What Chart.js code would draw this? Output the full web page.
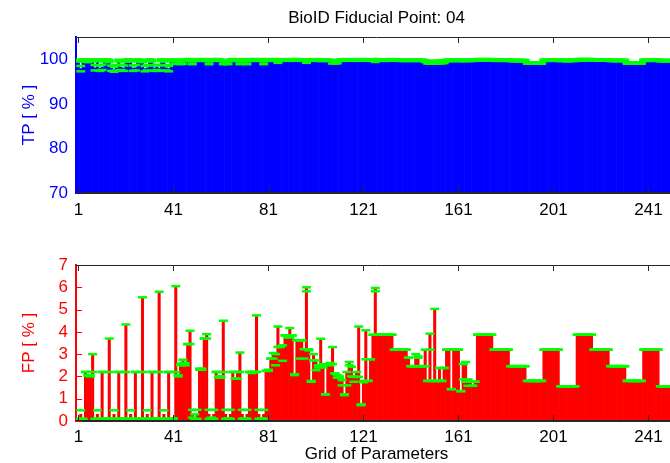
<!DOCTYPE html>
<html>
<head>
<meta charset="utf-8">
<title>BioID Fiducial Point: 04</title>
<script src="https://cdn.jsdelivr.net/npm/chart.js@4.4.1/dist/chart.umd.min.js"></script>
<style>
  html, body { margin: 0; padding: 0; background: #fff; overflow: hidden; }
  body { width: 670px; height: 463px; position: relative; }
  .panel { position: absolute; left: 0; width: 700px; }
  #tpPanel { top: 0; height: 232px; }
  #fpPanel { top: 240px; height: 240px; }
</style>
</head>
<body>
<div class="panel" id="tpPanel"><canvas id="tpChart"></canvas></div>
<div class="panel" id="fpPanel"><canvas id="fpChart"></canvas></div>
<script>
// tick labels
const xTickLabels = [1, 41, 81, 121, 161, 201, 241];
const tpTicks = [70, 80, 90, 100];
const fpTicks = [0, 1, 2, 3, 4, 5, 6, 7];

// TP [%] per grid point (one row = 7 grid points)
const tpValues = [
  99.7, 97.9, 99.8, 99.7, 99.6, 99.8, 99.7,
  98.1, 99.8, 98.0, 98.2, 99.7, 99.8, 99.6,
  98.0, 97.8, 98.1, 99.7, 98.2, 98.0, 99.7,
  99.8, 99.7, 98.0, 98.1, 99.8, 99.7, 99.6,
  97.9, 98.1, 99.8, 99.7, 98.0, 98.2, 98.0,
  99.8, 99.7, 98.1, 97.9, 99.8, 99.3, 99.7,
  99.8, 99.2, 99.3, 99.8, 99.9, 99.8, 99.2,
  99.8, 99.9, 99.8, 99.8, 99.9, 99.8, 99.2,
  99.8, 99.9, 99.8, 99.9, 99.8, 99.2, 99.3,
  99.2, 99.8, 99.9, 99.8, 99.8, 99.2, 99.9,
  99.8, 99.2, 99.9, 99.8, 99.9, 99.8, 99.8,
  99.9, 99.2, 99.8, 99.9, 99.85, 99.8, 99.9,
  99.5, 99.8, 99.85, 99.9, 99.85, 99.8, 99.9,
  99.85, 99.9, 99.85, 99.8, 99.85, 99.5, 99.8,
  99.85, 99.9, 99.85, 99.8, 99.75, 99.8, 99.85,
  99.8, 99.75, 99.4, 99.4, 99.45, 99.8, 99.85,
  99.9, 99.85, 99.8, 99.85, 99.9, 99.85, 99.8,
  99.85, 99.9, 99.85, 99.8, 99.85, 99.9, 99.6,
  99.9, 99.85, 99.85, 99.8, 99.8, 99.85, 99.9,
  99.85, 99.85, 99.8, 99.8, 99.75, 99.8, 99.85,
  99.8, 99.75, 99.8, 99.85, 99.8, 99.75, 99.6,
  99.35, 99.3, 99.35, 99.3, 99.35, 99.4, 99.4,
  99.45, 99.75, 99.8, 99.7, 99.8, 99.85, 99.8,
  99.7, 99.8, 99.75, 99.8, 99.75, 99.8, 99.8,
  99.9, 99.9, 99.85, 99.9, 99.9, 99.85, 99.9,
  99.8, 99.8, 99.85, 99.8, 99.8, 99.85, 99.8,
  99.75, 99.7, 99.75, 99.7, 99.7, 99.75, 99.7,
  99.15, 99.15, 99.15, 99.15, 99.15, 99.15, 99.15,
  99.8, 99.85, 99.8, 99.8, 99.85, 99.8, 99.8,
  99.75, 99.8, 99.75, 99.7, 99.75, 99.8, 99.75,
  99.9, 99.9, 99.9, 99.9, 99.9, 99.9, 99.9,
  99.85, 99.85, 99.85, 99.85, 99.85, 99.85, 99.85,
  99.75, 99.75, 99.75, 99.75, 99.75, 99.75, 99.75,
  99.15, 99.15, 99.15, 99.15, 99.15, 99.15, 99.15,
  99.8, 99.8, 99.8, 99.8, 99.8, 99.8, 99.8,
  99.7, 99.7, 99.7, 99.7, 99.7, 99.7, 99.7
];
const tpErr = [
  0.2, 0.6, 0.2, 0.2, 0.25, 0.2, 0.2,
  0.6, 0.2, 0.6, 0.6, 0.2, 0.2, 0.25,
  0.6, 0.6, 0.6, 0.2, 0.6, 0.6, 0.2,
  0.2, 0.2, 0.6, 0.6, 0.2, 0.2, 0.25,
  0.6, 0.6, 0.2, 0.2, 0.6, 0.6, 0.6,
  0.2, 0.2, 0.6, 0.6, 0.2, 0.35, 0.2,
  0.15, 0.3, 0.3, 0.15, 0.15, 0.15, 0.3,
  0.15, 0.15, 0.15, 0.15, 0.15, 0.15, 0.3,
  0.15, 0.15, 0.15, 0.15, 0.15, 0.3, 0.3,
  0.3, 0.15, 0.15, 0.15, 0.15, 0.3, 0.15,
  0.15, 0.3, 0.15, 0.15, 0.15, 0.15, 0.15,
  0.15, 0.3, 0.15, 0.15, 0.15, 0.15, 0.15,
  0.3, 0.15, 0.15, 0.15, 0.15, 0.15, 0.15,
  0.15, 0.15, 0.15, 0.15, 0.15, 0.3, 0.15,
  0.15, 0.15, 0.15, 0.15, 0.15, 0.15, 0.15,
  0.15, 0.15, 0.35, 0.35, 0.35, 0.15, 0.15,
  0.15, 0.15, 0.15, 0.15, 0.15, 0.15, 0.15,
  0.15, 0.15, 0.15, 0.15, 0.15, 0.15, 0.2,
  0.15, 0.15, 0.15, 0.15, 0.15, 0.15, 0.15,
  0.15, 0.15, 0.15, 0.15, 0.15, 0.15, 0.15,
  0.15, 0.15, 0.15, 0.15, 0.15, 0.15, 0.2,
  0.3, 0.3, 0.3, 0.3, 0.3, 0.3, 0.3,
  0.3, 0.15, 0.15, 0.15, 0.15, 0.15, 0.15,
  0.15, 0.15, 0.15, 0.15, 0.15, 0.15, 0.15,
  0.15, 0.15, 0.15, 0.15, 0.15, 0.15, 0.15,
  0.15, 0.15, 0.15, 0.15, 0.15, 0.15, 0.15,
  0.15, 0.15, 0.15, 0.15, 0.15, 0.15, 0.15,
  0.15, 0.15, 0.15, 0.15, 0.15, 0.15, 0.15,
  0.15, 0.15, 0.15, 0.15, 0.15, 0.15, 0.15,
  0.15, 0.15, 0.15, 0.15, 0.15, 0.15, 0.15,
  0.15, 0.15, 0.15, 0.15, 0.15, 0.15, 0.15,
  0.15, 0.15, 0.15, 0.15, 0.15, 0.15, 0.15,
  0.15, 0.15, 0.15, 0.15, 0.15, 0.15, 0.15,
  0.15, 0.15, 0.15, 0.15, 0.15, 0.15, 0.15,
  0.15, 0.15, 0.15, 0.15, 0.15, 0.15, 0.15,
  0.15, 0.15, 0.15, 0.15, 0.15, 0.15, 0.15
];

// FP [%] per grid point, with lower / upper error caps
const fpValues = [
  0.08, 0.3, 0.08, 2.2, 2.05, 2.05, 3.0,
  0.08, 0.3, 0.08, 2.2, 0.08, 0.1, 3.7,
  0.08, 0.3, 0.08, 2.2, 0.08, 0.1, 4.33,
  0.08, 0.3, 0.08, 2.2, 0.08, 0.1, 5.55,
  0.08, 0.3, 0.08, 2.2, 0.08, 0.1, 5.8,
  0.08, 0.3, 0.08, 2.2, 0.08, 0.12, 6.05,
  2.05, 2.5, 2.7, 2.6, 3.45, 4.05, 0.3,
  0.1, 0.3, 2.3, 2.35, 3.7, 3.9, 0.3,
  0.1, 0.3, 2.2, 1.95, 2.0, 4.5, 0.3,
  0.1, 0.3, 2.2, 1.9, 2.2, 3.07, 0.3,
  0.1, 0.3, 2.2, 2.15, 2.2, 4.74, 0.3,
  0.1, 0.3, 2.25, 2.3, 2.8, 3.05, 3.0,
  4.24, 3.32, 3.32, 3.84, 3.84, 4.17, 3.84,
  2.06, 3.62, 3.62, 3.62, 3.22, 6.0, 3.17,
  1.76, 3.0, 2.72, 2.5, 3.69, 2.55, 1.19,
  2.55, 2.6, 3.32, 2.13, 2.06, 1.94, 1.83,
  1.16, 2.2, 2.65, 2.43, 1.98, 2.2, 4.24,
  0.71, 1.8, 4.07, 1.8, 2.77, 3.87, 5.97,
  3.87, 3.87, 3.87, 3.87, 3.87, 3.87, 3.87,
  3.2, 3.2, 3.2, 3.2, 3.2, 3.2, 2.84,
  2.46, 2.46, 3.0, 2.9, 2.46, 2.46, 3.2,
  1.8, 3.92, 1.8, 5.03, 1.8, 2.38, 1.8,
  2.38, 3.2, 3.2, 1.43, 3.2, 3.2, 3.2,
  1.34, 2.55, 2.65, 1.87, 1.76, 1.58, 1.76,
  3.87, 3.87, 3.87, 3.87, 3.87, 3.87, 3.87,
  3.2, 3.2, 3.2, 3.2, 3.2, 3.2, 3.2,
  2.46, 2.46, 2.46, 2.46, 2.46, 2.46, 2.46,
  1.8, 1.8, 1.8, 1.8, 1.8, 1.8, 1.8,
  3.2, 3.2, 3.2, 3.2, 3.2, 3.2, 3.2,
  1.56, 1.56, 1.56, 1.56, 1.56, 1.56, 1.56,
  3.87, 3.87, 3.87, 3.87, 3.87, 3.87, 3.87,
  3.2, 3.2, 3.2, 3.2, 3.2, 3.2, 3.2,
  2.46, 2.46, 2.46, 2.46, 2.46, 2.46, 2.46,
  1.8, 1.8, 1.8, 1.8, 1.8, 1.8, 1.8,
  3.2, 3.2, 3.2, 3.2, 3.2, 3.2, 3.2,
  1.56, 1.56, 1.56, 1.56, 1.56, 1.56, 1.56
];
const fpLow = [
  0.08, 0.1, 0.08, 2.2, 2.05, 2.0, 2.2,
  0.08, 0.1, 0.08, 2.2, 0.08, 0.1, 2.2,
  0.08, 0.1, 0.08, 2.2, 0.08, 0.1, 2.2,
  0.08, 0.1, 0.08, 2.2, 0.08, 0.1, 2.2,
  0.08, 0.1, 0.08, 2.2, 0.08, 0.1, 2.2,
  0.08, 0.1, 0.08, 2.2, 0.08, 0.1, 2.2,
  2.0, 2.5, 2.6, 2.5, 3.45, 3.45, 0.15,
  0.1, 0.1, 2.3, 2.3, 3.7, 3.7, 0.1,
  0.05, 0.1, 2.2, 1.95, 1.95, 2.2, 0.1,
  0.08, 0.1, 2.2, 1.9, 1.9, 2.2, 0.1,
  0.08, 0.1, 2.2, 2.15, 2.2, 2.2, 0.1,
  0.08, 0.1, 2.25, 2.25, 2.8, 2.8, 2.5,
  3.32, 3.32, 2.7, 3.84, 3.75, 3.75, 3.84,
  2.06, 3.62, 2.8, 3.62, 2.8, 5.82, 3.17,
  1.76, 2.72, 2.28, 2.4, 2.5, 2.4, 1.19,
  2.55, 2.5, 2.55, 2.13, 1.94, 1.94, 1.6,
  1.16, 1.6, 2.5, 2.0, 1.76, 1.98, 1.98,
  0.71, 1.74, 2.77, 1.8, 2.77, 3.87, 5.82,
  3.87, 3.87, 3.87, 3.87, 3.87, 3.87, 3.87,
  3.2, 3.2, 3.2, 3.2, 3.2, 3.2, 2.84,
  2.46, 2.46, 2.46, 2.84, 2.46, 2.46, 2.46,
  1.8, 3.2, 1.8, 1.8, 1.8, 1.8, 1.8,
  2.38, 3.2, 3.2, 1.43, 3.2, 3.2, 3.2,
  1.34, 1.87, 1.76, 1.58, 1.76, 1.58, 1.76,
  3.87, 3.87, 3.87, 3.87, 3.87, 3.87, 3.87,
  3.2, 3.2, 3.2, 3.2, 3.2, 3.2, 3.2,
  2.46, 2.46, 2.46, 2.46, 2.46, 2.46, 2.46,
  1.8, 1.8, 1.8, 1.8, 1.8, 1.8, 1.8,
  3.2, 3.2, 3.2, 3.2, 3.2, 3.2, 3.2,
  1.56, 1.56, 1.56, 1.56, 1.56, 1.56, 1.56,
  3.87, 3.87, 3.87, 3.87, 3.87, 3.87, 3.87,
  3.2, 3.2, 3.2, 3.2, 3.2, 3.2, 3.2,
  2.46, 2.46, 2.46, 2.46, 2.46, 2.46, 2.46,
  1.8, 1.8, 1.8, 1.8, 1.8, 1.8, 1.8,
  3.2, 3.2, 3.2, 3.2, 3.2, 3.2, 3.2,
  1.56, 1.56, 1.56, 1.56, 1.56, 1.56, 1.56
];
const fpHigh = [
  0.1, 0.48, 0.1, 2.2, 2.05, 2.05, 3.0,
  0.1, 0.48, 0.1, 2.2, 0.1, 0.12, 3.7,
  0.1, 0.48, 0.1, 2.2, 0.1, 0.12, 4.33,
  0.1, 0.48, 0.1, 2.2, 0.1, 0.12, 5.55,
  0.1, 0.48, 0.1, 2.2, 0.1, 0.12, 5.8,
  0.1, 0.48, 0.1, 2.2, 0.1, 0.12, 6.05,
  2.05, 2.55, 2.75, 2.6, 3.45, 4.05, 0.5,
  0.3, 0.5, 2.35, 2.35, 3.7, 3.9, 0.5,
  0.15, 0.5, 2.2, 2.0, 2.0, 4.5, 0.5,
  0.12, 0.5, 2.2, 1.9, 2.2, 3.07, 0.5,
  0.12, 0.5, 2.2, 2.2, 2.2, 4.74, 0.5,
  0.12, 0.5, 2.25, 2.3, 2.8, 3.05, 3.0,
  4.24, 3.35, 3.4, 3.84, 3.84, 4.17, 3.84,
  2.1, 3.62, 3.62, 3.62, 3.22, 6.0, 3.22,
  1.8, 3.0, 2.72, 2.5, 3.69, 2.55, 1.2,
  2.55, 2.6, 3.32, 2.13, 2.06, 2.0, 1.83,
  1.2, 2.2, 2.65, 2.43, 1.98, 2.2, 4.24,
  0.75, 1.8, 4.07, 1.8, 2.77, 3.87, 5.97,
  3.87, 3.87, 3.87, 3.87, 3.87, 3.87, 3.87,
  3.2, 3.2, 3.2, 3.2, 3.2, 3.2, 2.84,
  2.46, 2.46, 3.0, 2.9, 2.46, 2.46, 3.2,
  1.8, 3.92, 1.8, 5.03, 1.8, 2.38, 1.8,
  2.38, 3.2, 3.2, 1.43, 3.2, 3.2, 3.2,
  1.34, 2.55, 2.65, 1.87, 1.76, 1.58, 1.76,
  3.87, 3.87, 3.87, 3.87, 3.87, 3.87, 3.87,
  3.2, 3.2, 3.2, 3.2, 3.2, 3.2, 3.2,
  2.46, 2.46, 2.46, 2.46, 2.46, 2.46, 2.46,
  1.8, 1.8, 1.8, 1.8, 1.8, 1.8, 1.8,
  3.2, 3.2, 3.2, 3.2, 3.2, 3.2, 3.2,
  1.56, 1.56, 1.56, 1.56, 1.56, 1.56, 1.56,
  3.87, 3.87, 3.87, 3.87, 3.87, 3.87, 3.87,
  3.2, 3.2, 3.2, 3.2, 3.2, 3.2, 3.2,
  2.46, 2.46, 2.46, 2.46, 2.46, 2.46, 2.46,
  1.8, 1.8, 1.8, 1.8, 1.8, 1.8, 1.8,
  3.2, 3.2, 3.2, 3.2, 3.2, 3.2, 3.2,
  1.56, 1.56, 1.56, 1.56, 1.56, 1.56, 1.56
];

Chart.defaults.font.family = '"Liberation Sans", Arial, sans-serif';
Chart.defaults.font.size = 17;
Chart.defaults.color = '#000';

const capGreen = '#00ff00';

// MATLAB style box: top edge and inward tick marks
const matlabBox = {
  id: 'matlabBox',
  beforeDatasetsDraw(chart, args, opts) {
    const {ctx, chartArea: a, scales: {y}} = chart;
    ctx.save();
    ctx.strokeStyle = opts.axisColor;
    ctx.lineWidth = 1;
    ctx.beginPath();
    y.ticks.forEach(t => {
      const py = Math.round(y.getPixelForValue(t.value)) + 0.5;
      ctx.moveTo(a.left, py);
      ctx.lineTo(a.left + 6, py);
    });
    ctx.stroke();
    ctx.restore();
  },
  afterDatasetsDraw(chart) {
    const {ctx, chartArea: a, scales: {x}} = chart;
    ctx.save();
    ctx.strokeStyle = '#262626';
    ctx.lineWidth = 1;
    ctx.beginPath();
    ctx.moveTo(a.left, a.top + 0.5);
    ctx.lineTo(a.right, a.top + 0.5);
    ctx.moveTo(a.left, a.bottom - 0.5);
    ctx.lineTo(a.right, a.bottom - 0.5);
    x.ticks.forEach(t => {
      const px = Math.round(x.getPixelForValue(t.value)) + 0.5;
      ctx.moveTo(px, a.top);
      ctx.lineTo(px, a.top + 6);
      ctx.moveTo(px, a.bottom);
      ctx.lineTo(px, a.bottom - 6);
    });
    ctx.stroke();
    ctx.restore();
  }
};

function barPoints(values) {
  return values.map((v, i) => ({x: i + 1, y: v}));
}

function makePanel(canvasId, cfg) {
  return new Chart(document.getElementById(canvasId), {
    type: 'bar',
    data: {
      datasets: [
        {
          type: 'scatter',
          data: barPoints(cfg.high),
          pointStyle: 'line',
          pointRadius: 4.5,
          pointBorderWidth: 2.5,
          borderColor: capGreen,
          backgroundColor: capGreen,
          order: 0,
          clip: 0
        },
        {
          type: 'scatter',
          data: barPoints(cfg.low),
          pointStyle: 'line',
          pointRadius: 4.5,
          pointBorderWidth: 2.5,
          borderColor: capGreen,
          backgroundColor: capGreen,
          order: 0,
          clip: 0
        },
        {
          type: 'bar',
          data: barPoints(cfg.values),
          backgroundColor: cfg.barColor,
          borderWidth: 0,
          barPercentage: 1,
          categoryPercentage: 1,
          order: 1
        }
      ]
    },
    options: {
      responsive: true,
      maintainAspectRatio: false,
      animation: false,
      events: [],
      layout: {padding: {top: cfg.padTop, right: 23, left: 0, bottom: 0}},
      plugins: {
        legend: {display: false},
        tooltip: {enabled: false},
        title: cfg.title ? {
          display: true,
          text: cfg.title,
          fullSize: false,
          color: '#000',
          font: {size: 17, weight: 'normal'},
          padding: {top: 8, bottom: 8.6}
        } : {display: false},
        matlabBox: {axisColor: cfg.axisColor}
      },
      scales: {
        x: {
          type: 'linear',
          min: 0,
          max: fpValues.length + 1,
          offset: false,
          grid: {display: false, drawTicks: false},
          border: {display: true, color: '#262626', width: 1},
          afterBuildTicks: s => { s.ticks = xTickLabels.map(v => ({value: v})); },
          afterFit: s => { s.height = cfg.xHeight; },
          ticks: {color: '#000', padding: cfg.xPad, maxRotation: 0, autoSkip: false},
          title: cfg.xTitle ? {
            display: true, text: cfg.xTitle, color: '#000',
            padding: {top: 0, bottom: 15.8}
          } : {display: false}
        },
        y: {
          min: cfg.yMin,
          max: cfg.yMax,
          grid: {display: false, drawTicks: false},
          border: {display: true, color: cfg.axisColor, width: 2},
          afterBuildTicks: s => { s.ticks = cfg.yTicks.map(v => ({value: v})); },
          afterFit: s => { s.width = 76; },
          ticks: {color: cfg.axisColor, padding: 8, autoSkip: false},
          title: {
            display: true, text: cfg.yTitle, color: cfg.axisColor,
            padding: {top: 18.8, bottom: 0}
          }
        }
      }
    },
    plugins: [matlabBox]
  });
}

const tpLow = tpValues.map((v, i) => v - tpErr[i]);
const tpHigh = tpValues.map((v, i) => v + tpErr[i]);

makePanel('tpChart', {
  title: 'BioID Fiducial Point: 04',
  values: tpValues, low: tpLow, high: tpHigh,
  barColor: '#0000ff', axisColor: '#0000ff',
  yMin: 70, yMax: 105, yTicks: tpTicks, yTitle: 'TP [ % ]',
  padTop: 0, xHeight: 39, xPad: 7
});

makePanel('fpChart', {
  title: null,
  values: fpValues, low: fpLow, high: fpHigh,
  barColor: '#ff0000', axisColor: '#ff0000',
  yMin: 0, yMax: 7, yTicks: fpTicks, yTitle: 'FP [ % ]',
  padTop: 25, xHeight: 59, xPad: 6, xTitle: 'Grid of Parameters'
});
</script>
</body>
</html>
